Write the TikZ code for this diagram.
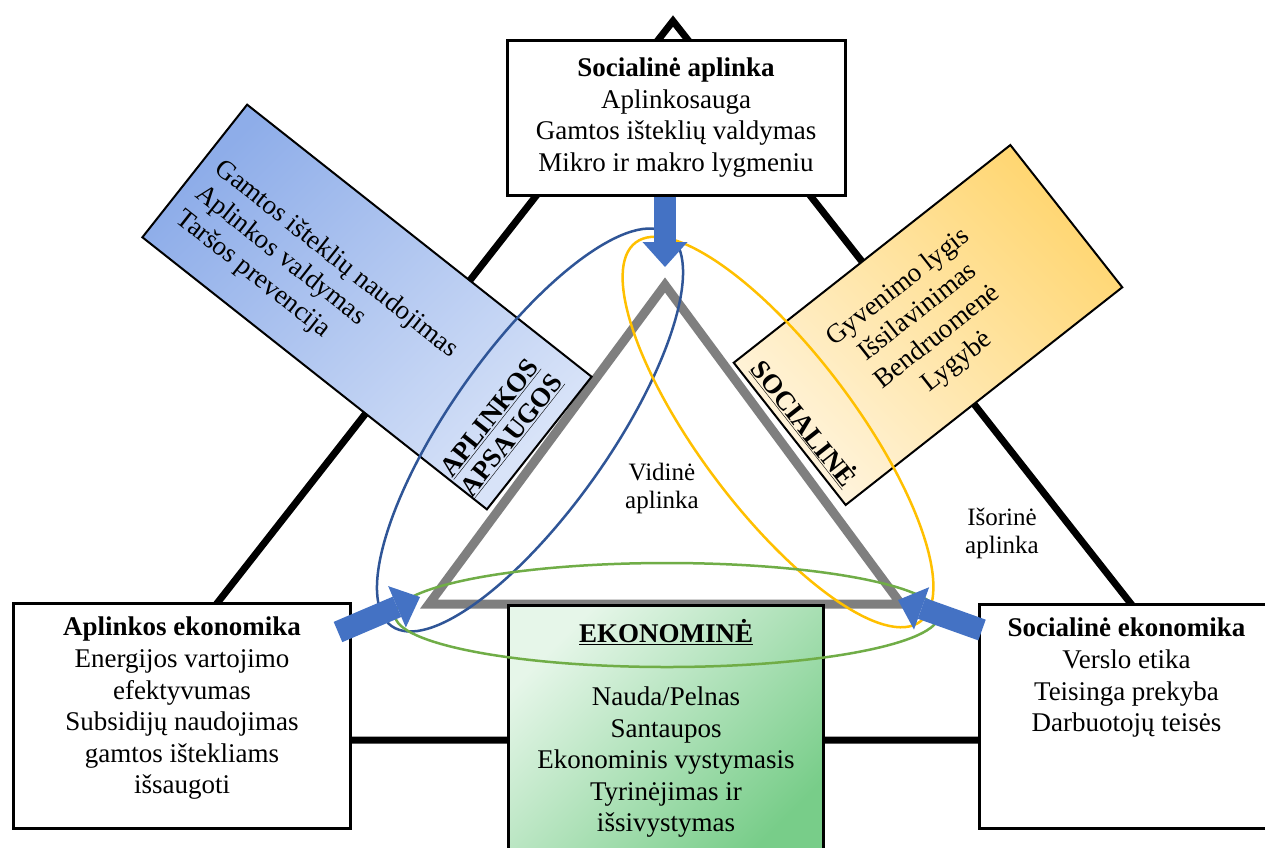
\documentclass[tikz,border=0pt]{standalone}
\usepackage{fontspec}
\setmainfont{Liberation Serif}
\usetikzlibrary{arrows.meta,shapes.geometric,calc,positioning}

\definecolor{arrowblue}{HTML}{4472C4}
\definecolor{ringblue}{HTML}{2F5597}
\definecolor{ringyellow}{HTML}{FFC000}
\definecolor{ringgreen}{HTML}{70AD47}
\definecolor{innergrey}{HTML}{7F7F7F}
\definecolor{apsDark}{HTML}{8EADE9}
\definecolor{apsLight}{HTML}{D8E3F8}
\definecolor{socDark}{HTML}{FFD671}
\definecolor{socLight}{HTML}{FFF4DD}
\definecolor{ekoLight}{HTML}{E6F6E9}
\definecolor{ekoDark}{HTML}{78CD89}

\tikzset{
    panel/.style={
    rectangle,draw=black,line width=3pt,fill=white,inner sep=0pt
    },
    tilted/.style={
    rectangle,draw=black,line width=2pt,inner sep=0pt
    },
    ring/.style={
    ellipse,line width=2.5pt,inner sep=0pt
    },
    bigarrow/.style={
    line width=22pt,draw=arrowblue,-{Triangle[width=45pt,length=25pt,line width=0pt]}
    },
    boxtext/.style={
    anchor=north,align=center,inner sep=0pt
    },
    smalltext/.style={
    align=center,inner sep=0pt,font=\fontsize{25}{28}\selectfont
    },
}

\begin{document}
\begin{tikzpicture}[x=1pt, y=-1pt, font=\fontsize{27}{31.6}\selectfont]
   \useasboundingbox[fill=white] (0,0) rectangle (1265,847);

   % triangles
   \coordinate (outTop) at (673,21);
   \coordinate (outLeft) at (110,740);
   \coordinate (outRight) at (1238,740);
   \coordinate (inTop) at (665,285);
   \coordinate (inLeft) at (429,604);
   \coordinate (inRight) at (901,604);
   \coordinate (leftTip) at (420,597);
   \coordinate (rightTip) at (898,600);

   \draw[line width=7pt] (outTop) -- (outRight) -- (outLeft) -- cycle;
   \draw[innergrey, line width=9pt] (inTop) -- (inRight) -- (inLeft) -- cycle;

   % boxes
   \node[panel, minimum width=338pt, minimum height=155pt, align=center] (socEnv) at (676,117.5)
      {\textbf{Socialinė aplinka}\\Aplinkosauga\\Gamtos išteklių valdymas\\Mikro ir makro lygmeniu};
   \node[panel, minimum width=337pt, minimum height=225pt, anchor=north west] (ecoEnv) at (12,602) {};
   \node[panel, minimum width=294pt, minimum height=224pt, anchor=north west] (socEcon) at (978,603) {};
   \node[panel, minimum width=315pt, minimum height=260pt, anchor=north west,
         top color=ekoLight, bottom color=ekoDark, shading angle=45] (ekonomine) at (507,604) {};

   \node[boxtext] (ecoEnvText) at ([yshift=-15pt]ecoEnv.north)
      {\textbf{Aplinkos ekonomika}\\Energijos vartojimo\\efektyvumas\\Subsidijų naudojimas\\gamtos ištekliams\\išsaugoti};
   \node[boxtext] (socEconText) at ([yshift=-15pt]socEcon.north)
      {\textbf{Socialinė ekonomika}\\Verslo etika\\Teisinga prekyba\\Darbuotojų teisės};
   \node[boxtext] (ekonomineText) at ([yshift=-15pt]ekonomine.north)
      {\underline{\textbf{EKONOMINĖ}}\\[31.6pt]Nauda/Pelnas\\Santaupos\\Ekonominis vystymasis\\Tyrinėjimas ir\\išsivystymas};

   \node[tilted, minimum width=439pt, minimum height=169pt, rotate=-38.3,
         top color=apsDark, bottom color=apsLight, shading angle=45] (apsauga) at (367,307) {};
   \node[rotate=-38.3, anchor=west, align=left, inner sep=0pt] (apsaugaText) at (198,191)
      {Gamtos išteklių naudojimas\\Aplinkos valdymas\\Taršos prevencija};
   \node[rotate=51.7, align=center, inner sep=0pt, font=\fontsize{27}{28}\selectfont\bfseries] (apsaugaTitle) at (501,427)
      {\underline{APLINKOS}\\\underline{APSAUGOS}};

   \node[tilted, minimum width=352pt, minimum height=181pt, rotate=38.2, align=center,
         top color=socDark, bottom color=socLight, shading angle=-45] (socialine) at (928,325)
      {Gyvenimo lygis\\Išsilavinimas\\Bendruomenė\\Lygybė};
   \node[rotate=-51.8, inner sep=0pt, font=\fontsize{27}{28}\selectfont\bfseries] (socialineTitle) at (805,423)
      {\underline{SOCIALINĖ}};

   % rings
   \node[ring, draw=ringblue, minimum width=480pt, minimum height=160pt, rotate=54.8] (ringAps) at (530,430) {};
   \node[ring, draw=ringyellow, minimum width=474pt, minimum height=156pt, rotate=-53.1] (ringSoc) at (778,432) {};
   \node[ring, draw=ringgreen, minimum width=544pt, minimum height=104pt] (ringEko) at (667,615) {};

   % arrows
   \draw[bigarrow, shorten >=18pt] (socEnv.south -| inTop) -- (inTop);
   \draw[bigarrow] ([xshift=-14pt,yshift=-30pt]ecoEnv.north east) -- (leftTip);
   \draw[bigarrow] ([xshift=4pt,yshift=-27pt]socEcon.north west) -- (rightTip);

   \node[smalltext] (vidine) at (662,488) {Vidinė\\aplinka};
   \node[smalltext] (isorine) at (1002,533) {Išorinė\\aplinka};
\end{tikzpicture}
\end{document}
